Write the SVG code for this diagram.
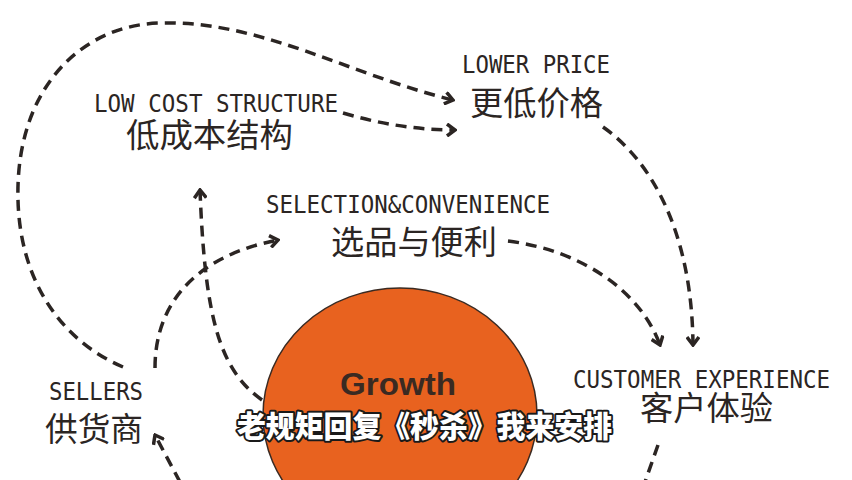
<svg xmlns="http://www.w3.org/2000/svg" width="852" height="480" viewBox="0 0 852 480">
<style>
.lat{font-family:"DejaVu Sans Mono","Liberation Mono",monospace;font-size:24px;fill:#2b2523}
.cjk{font-family:"Noto Sans CJK SC",sans-serif;font-size:33px;fill:#2b2523}
.con{fill:none;stroke:#2b2523;stroke-width:3.5;stroke-dasharray:11 7}
.sub{font-family:"Noto Sans CJK SC",sans-serif;font-size:30px;font-weight:900;fill:#ffffff;stroke:#1a1a1a;stroke-width:4;paint-order:stroke;stroke-linejoin:round}
</style>
<defs>
<marker id="ah" viewBox="0 0 12 14" refX="10" refY="7" markerWidth="12" markerHeight="14" markerUnits="userSpaceOnUse" orient="auto">
<path d="M2,1 L10,7 L2,13" fill="none" stroke="#2b2523" stroke-width="3.5"/>
</marker>
</defs>
<rect width="852" height="480" fill="#ffffff"/>
<g id="growth">
<ellipse cx="400" cy="415" rx="137" ry="127" fill="#E8621F" stroke="#3a2a22" stroke-width="1.5"/>
<text x="340" y="395" font-family="Liberation Sans,Arial,sans-serif" font-weight="bold" font-size="31" fill="#3a2a22" textLength="116" lengthAdjust="spacingAndGlyphs">Growth</text>
</g>
<g id="connectors">
<path class="con" d="M123,367 C60,340 20,280 18,200 C15,90 80,25 160,23 C260,20 350,75 453,100" marker-end="url(#ah)"/>
<path class="con" d="M343,113 Q400,130 455,130" marker-end="url(#ah)"/>
<path class="con" d="M603,127 C650,160 692,230 693,345" marker-end="url(#ah)"/>
<path class="con" d="M508,241 C580,250 640,290 660,345" marker-end="url(#ah)"/>
<path class="con" d="M155,368 C155,300 200,255 278,240" marker-end="url(#ah)"/>
<path class="con" d="M262,400 C220,370 205,320 200,190" marker-end="url(#ah)"/>
<path class="con" d="M180,482 L155,435" marker-end="url(#ah)"/>
<path class="con" d="M658,445 L645,482"/>
</g>
<g id="lowcost">
<text class="lat" x="94" y="112" textLength="244" lengthAdjust="spacingAndGlyphs">LOW COST STRUCTURE</text>
<text class="cjk" x="126" y="147" textLength="167" lengthAdjust="spacingAndGlyphs">低成本结构</text>
</g>
<g id="lowerprice">
<text class="lat" x="462" y="73" textLength="148" lengthAdjust="spacingAndGlyphs">LOWER PRICE</text>
<text class="cjk" x="470" y="115" textLength="133" lengthAdjust="spacingAndGlyphs">更低价格</text>
</g>
<g id="selection">
<text class="lat" x="266" y="213" textLength="284" lengthAdjust="spacingAndGlyphs">SELECTION&amp;CONVENIENCE</text>
<text class="cjk" x="331" y="254" textLength="166" lengthAdjust="spacingAndGlyphs">选品与便利</text>
</g>
<g id="customer">
<text class="lat" x="573" y="388" textLength="257" lengthAdjust="spacingAndGlyphs">CUSTOMER EXPERIENCE</text>
<text class="cjk" x="640" y="420" textLength="133" lengthAdjust="spacingAndGlyphs">客户体验</text>
</g>
<g id="sellers">
<text class="lat" x="49" y="400" textLength="94" lengthAdjust="spacingAndGlyphs">SELLERS</text>
<text class="cjk" x="45" y="441" textLength="98" lengthAdjust="spacingAndGlyphs">供货商</text>
</g>
<g id="subtitle">
<text class="sub" x="237" y="437" textLength="375" lengthAdjust="spacingAndGlyphs">老规矩回复《秒杀》我来安排</text>
</g>
</svg>
